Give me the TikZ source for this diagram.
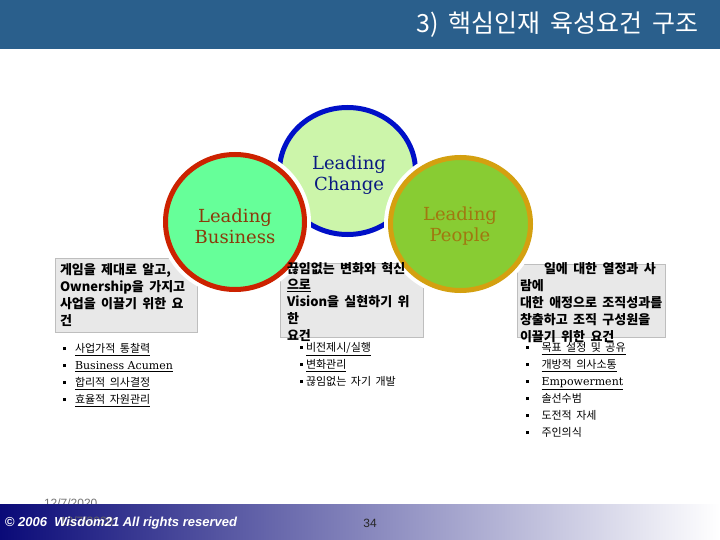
\documentclass[tikz,border=0pt]{standalone}
\usepackage{fontspec}
\setmainfont{Noto Sans CJK KR}[WordSpace=1.8]
\newfontfamily\latserif{DejaVu Serif}
\newfontfamily\footfont{Liberation Sans}
\usetikzlibrary{shapes.geometric}
\definecolor{hdr}{RGB}{42,95,140}
\definecolor{chgfill}{RGB}{204,245,170}
\definecolor{chgline}{RGB}{0,16,200}
\definecolor{busfill}{RGB}{102,255,153}
\definecolor{busline}{RGB}{204,34,0}
\definecolor{pplfill}{RGB}{136,204,51}
\definecolor{pplline}{RGB}{212,160,16}
\definecolor{chgtext}{RGB}{10,26,128}
\definecolor{bustext}{RGB}{139,58,10}
\definecolor{ppltext}{RGB}{160,120,16}
\definecolor{boxfill}{RGB}{232,232,232}
\definecolor{boxline}{RGB}{190,190,190}
\definecolor{footnavy}{RGB}{10,10,120}
\definecolor{footmid}{RGB}{170,170,200}
\newcommand\sqb[1]{\makebox[#1][l]{\rule[2.5pt]{3.2pt}{3.2pt}}}
\begin{document}
\begin{tikzpicture}[x=1pt,y=-1pt,
  every node/.style={inner sep=0pt, outer sep=0pt},
  ring/.style={ellipse, line width=5pt},
  halo/.style={preaction={draw=white, line width=13pt}},
  boxrect/.style={anchor=north west, fill=boxfill, draw=boxline, line width=0.8pt},
  boxtext/.style={anchor=north west, align=left, font=\fontsize{13}{16.8}\selectfont\bfseries},
  listtext/.style={anchor=north west, align=left, font=\fontsize{11}{17}\selectfont},
  lbl/.style={font=\latserif\fontsize{18}{21}\selectfont, align=center}]
\useasboundingbox (0,0) rectangle (720,540);
% header
\fill[hdr] (0,0) rectangle (720,49);
\node[anchor=east, text=white, font=\fontsize{25}{25}\selectfont] (title) at (699,25) {3) 핵심인재 육성요건 구조};
% boxes
\node[boxrect, minimum width=142, minimum height=74] (lbox) at (55,258) {};
\node[boxrect, minimum width=143, minimum height=74] (mbox) at (280,263) {};
\node[boxrect, minimum width=148, minimum height=73] (rbox) at (517,264) {};
% circles
\node[ring, draw=chgline, fill=chgfill, minimum width=136, minimum height=127] (chg) at (347.5,171) {};
\node[ring, halo, draw=busline, fill=busfill, minimum width=139, minimum height=135] (bus) at (235,222) {};
\node[ring, halo, draw=pplline, fill=pplfill, minimum width=140, minimum height=133] (ppl) at (460.5,224) {};
\node[lbl, text=chgtext] (chgl) at (349,175.5) {Leading\\Change};
\node[lbl, text=bustext] (busl) at (235,226) {Leading\\Business};
\node[lbl, text=ppltext] (ppll) at (460,226) {Leading\\People};
% box texts
\node[boxtext] (ltxt) at (60,264) {게임을 제대로 알고,\\Ownership을 가지고\\사업을 이끌기 위한 요\\건};
\node[boxtext] (mtxt) at (287,262) {끊임없는 변화와 혁신\\\underline{으로}\\Vision을 실현하기 위\\한\\요건};
\node[boxtext] (rtxt) at (520,263) {\hspace*{24pt}일에 대한 열정과 사\\람에\\대한 애정으로 조직성과를\\창출하고 조직 구성원을\\이끌기 위한 요건};
% lists
\node[listtext] (llist) at (62.5,343.5) {\sqb{12.5pt}\underline{사업가적 통찰력}\\
\sqb{12.5pt}\underline{\latserif Business Acumen}\\
\sqb{12.5pt}\underline{합리적 의사결정}\\
\sqb{12.5pt}\underline{효율적 자원관리}};
\node[listtext] (mlist) at (300,342.5) {\sqb{6pt}\underline{비전제시/실행}\\
\sqb{6pt}\underline{변화관리}\\
\sqb{6pt}끊임없는 자기 개발};
\node[listtext] (rlist) at (525.5,342.5) {\sqb{16pt}\underline{목표 설정 및 공유}\\
\sqb{16pt}\underline{개방적 의사소통}\\
\sqb{16pt}\underline{\latserif Empowerment}\\
\sqb{16pt}솔선수범\\
\sqb{16pt}도전적 자세\\
\sqb{16pt}주인의식};
% footer
\node[anchor=west, text=black!55, font=\footfont\fontsize{12}{12}\selectfont] (d1) at (44,503) {12/7/2020};
\shade[left color=footnavy, middle color=footmid, right color=white] (0,504) rectangle (720,540);
\node[anchor=west, text=black!60, font=\footfont\fontsize{12}{12}\selectfont] (d2) at (60,521) {12/7/2020};
\node[anchor=west, text=white, font=\footfont\bfseries\itshape\fontsize{13}{13}\selectfont] (cr) at (5,523) {© 2006 \ Wisdom21 All rights reserved};
\node[text=black!85, font=\footfont\fontsize{12}{12}\selectfont] (pg) at (370,523) {34};
\end{tikzpicture}
\end{document}
